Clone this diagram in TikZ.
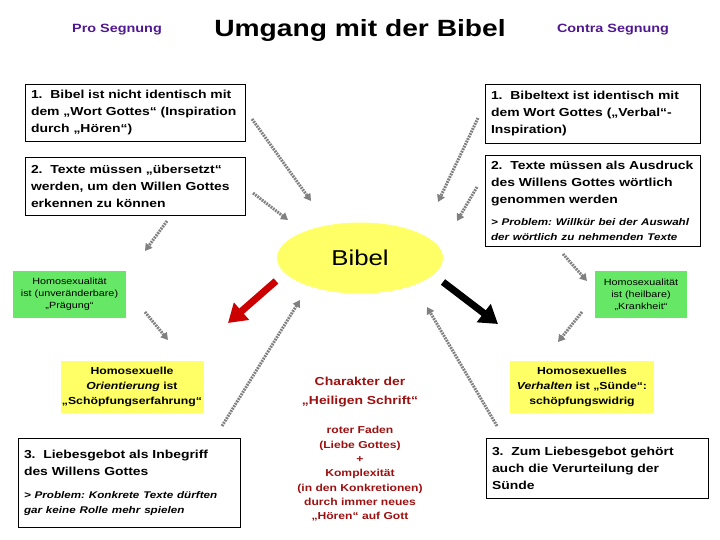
\documentclass[tikz,border=0pt]{standalone}
\usepackage{fontspec}
\setmainfont{Liberation Sans}[FakeStretch=1.2]
\usetikzlibrary{arrows.meta, positioning, shapes.geometric}
\definecolor{segpurple}{HTML}{501890}
\definecolor{bibred}{HTML}{9C1010}
\definecolor{hlyellow}{HTML}{FFFF66}
\definecolor{hlgreen}{HTML}{66E866}
\definecolor{dotgray}{HTML}{808080}
\definecolor{arrred}{HTML}{CC0000}
\newcommand{\probfont}{\bfseries\itshape\fontsize{9.7}{15}\selectfont}
\frenchspacing

\begin{document}
\begin{tikzpicture}[x=1pt, y=-1pt,
  side/.style={font=\bfseries\fontsize{12}{14}\selectfont, text=segpurple},
  txtbox/.style={draw=black, fill=white, line width=0.8pt, align=left, inner xsep=6pt, inner ysep=2pt, text width=208pt, font=\bfseries\fontsize{11.6}{17}\selectfont},
  greenbox/.style={fill=hlgreen, minimum width=113pt, minimum height=47pt, align=center, inner sep=1pt, font=\fontsize{9}{12}\selectfont},
  yelbox/.style={fill=hlyellow, minimum width=143pt, minimum height=52pt, align=center, inner sep=1pt, font=\bfseries\fontsize{10.2}{15}\selectfont},
  redtxt/.style={align=center, text=bibred, font=\bfseries\fontsize{10.1}{14.3}\selectfont},
  darr/.style={-{Triangle[length=7pt,width=8pt]}, dotgray, line width=3pt, dash pattern=on 1.8pt off 1pt},
  bigarr/.style={-{Triangle[length=18pt,width=22pt]}, line width=7pt},
]
\useasboundingbox (0,0) rectangle (720,540);

% headings
\node[side] (pro) at (117,30) {Pro Segnung};
\node[font=\bfseries\fontsize{23.5}{26}\selectfont] (title) at (360,30) {Umgang mit der Bibel};
\node[side] (contra) at (613,30) {Contra Segnung};

% left column
\node[txtbox, minimum height=57pt] (lbox1) at (135,112.5) {1.\ \ Bibel ist nicht identisch mit\\ dem „Wort Gottes“ (Inspiration\\ durch „Hören“)};
\node[txtbox, minimum height=58pt] (lbox2) at (135,186) {2.\ \ Texte müssen „übersetzt“\\ werden, um den Willen Gottes\\ erkennen zu können};
\node[greenbox] (gl) at (69.5,294.5) {Homosexualität\\ ist (unveränderbare)\\ „Prägung“};
\node[yelbox] (yl) at (132,387) {Homosexuelle\\ \textit{Orientierung} ist\\ „Schöpfungserfahrung“};
\node[txtbox, minimum height=89pt, text width=210pt] (lbox3) at (129,482.5) {{3.\ \ Liebesgebot als Inbegriff\\ des Willens Gottes\par}\vspace{8pt}{\probfont > Problem: Konkrete Texte dürften\\ gar keine Rolle mehr spielen\par}};

% right column
\node[txtbox, minimum height=59pt, text width=203pt] (rbox1) at (592.5,113.5) {1.\ \ Bibeltext ist identisch mit\\ dem Wort Gottes („Verbal“-\\ Inspiration)};
\node[txtbox, minimum height=91pt, text width=203pt] (rbox2) at (592.5,200.5) {{2.\ \ Texte müssen als Ausdruck\\ des Willens Gottes wörtlich\\ genommen werden\par}\vspace{7pt}{\probfont > Problem: Willkür bei der Auswahl\\ der wörtlich zu nehmenden Texte\par}};
\node[greenbox, minimum width=92pt] (gr) at (641,294.5) {Homosexualität\\ ist (heilbare)\\ „Krankheit“};
\node[yelbox, minimum width=144pt] (yr) at (582,387) {Homosexuelles\\ \textit{Verhalten} ist „Sünde“:\\ schöpfungswidrig};
\node[txtbox, minimum height=60pt, text width=210pt] (rbox3) at (597,468) {3.\ \ Zum Liebesgebot gehört\\ auch die Verurteilung der\\ Sünde};

% centre
\node[ellipse, fill=hlyellow, minimum width=166pt, minimum height=71pt, font=\fontsize{21.5}{24}\selectfont] (bib) at (360,258) {Bibel};
\node[redtxt, font=\bfseries\fontsize{11.6}{19}\selectfont] (charakter) at (360,392.5) {Charakter der\\ „Heiligen Schrift“};
\node[redtxt] (faden) at (360,474) {roter Faden\\ (Liebe Gottes)\\ +\\ Komplexität\\ (in den Konkretionen)\\ durch immer neues\\ „Hören“ auf Gott};

% arrow ends
\coordinate (l1a) at (252,119);  \coordinate (l1b) at (311,201);
\coordinate (l2a) at (253,193);  \coordinate (l2b) at (288,220);
\coordinate (l3a) at (167,221);  \coordinate (l3b) at (145,251);
\coordinate (l4a) at (145,312);  \coordinate (l4b) at (168,340);
\coordinate (l5a) at (222,426);  \coordinate (l5b) at (300,300);
\coordinate (r1a) at (478,118);  \coordinate (r1b) at (438,202);
\coordinate (r2a) at (477,187);  \coordinate (r2b) at (457,221);
\coordinate (r3a) at (563,254);  \coordinate (r3b) at (587,281);
\coordinate (r4a) at (582,312);  \coordinate (r4b) at (558,342);
\coordinate (r5a) at (497,426);  \coordinate (r5b) at (427,307);
\coordinate (proa) at (276,281); \coordinate (prob) at (228,323);
\coordinate (cona) at (443,282); \coordinate (conb) at (498,324);

\foreach \i/\j in {l1a/l1b, l2a/l2b, l3a/l3b, l4a/l4b, l5a/l5b, r1a/r1b, r2a/r2b, r3a/r3b, r4a/r4b, r5a/r5b}
  \draw[darr] (\i) -- (\j);

\draw[bigarr, arrred] (proa) -- (prob);
\draw[bigarr, black] (cona) -- (conb);

\end{tikzpicture}
\end{document}
